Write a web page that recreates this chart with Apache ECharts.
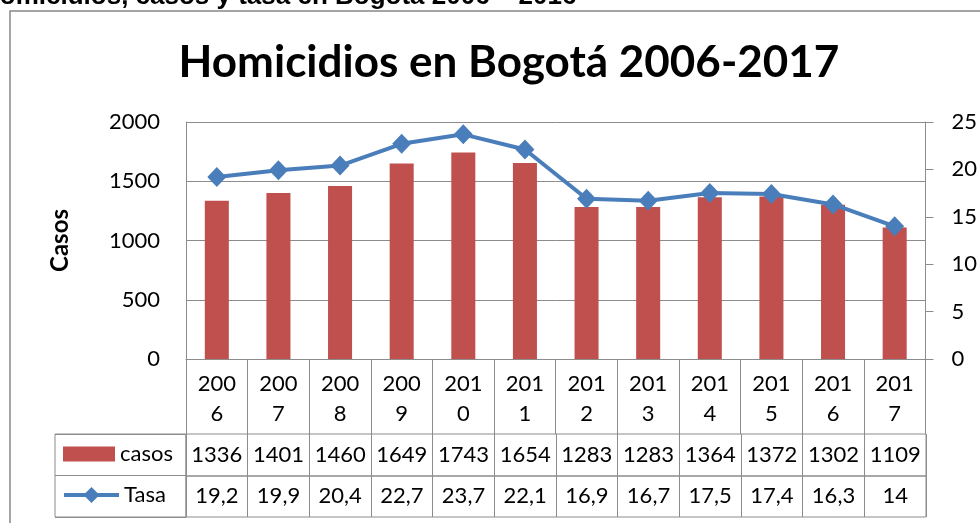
<!DOCTYPE html>
<html>
<head>
<meta charset="utf-8">
<script src="https://cdn.jsdelivr.net/npm/echarts@6/dist/echarts.min.js"></script>
<style>
html,body{margin:0;padding:0;background:#fff;}
#chart{width:980px;height:523px;}
</style>
</head>
<body>
<div id="chart"></div>
<script>
// ---- data ----
const years = ['2006','2007','2008','2009','2010','2011','2012','2013','2014','2015','2016','2017'];
const casos = [1336, 1401, 1460, 1649, 1743, 1654, 1283, 1283, 1364, 1372, 1302, 1109];
const tasa  = [19.2, 19.9, 20.4, 22.7, 23.7, 22.1, 16.9, 16.7, 17.5, 17.4, 16.3, 14];
const casosTicks = [0, 500, 1000, 1500, 2000];
const tasaTicks = [0, 5, 10, 15, 20, 25];

const FONT = 'Lato';
const GRID = '#8c8c8c';
const fmtTasa = v => String(v).replace('.', ',');

const chart = echarts.init(document.getElementById('chart'), null, {renderer: 'canvas'});

const cellAxis = (gridIndex, data) => ({
  type: 'category', gridIndex, data,
  axisLine: {show: false}, axisTick: {show: false},
  splitLine: {show: true, interval: 0, lineStyle: {color: GRID, width: 1}},
  axisLabel: {inside: true, interval: 0, margin: 21, verticalAlign: 'middle',
              fontFamily: FONT, fontSize: 22, color: '#000'}
});

chart.setOption({
  animation: false,
  backgroundColor: '#fff',
  title: [
    {text: 'Homicidios en Bogotá 2006-2017', left: 504, top: 36, textAlign: 'center',
     textStyle: {fontFamily: FONT, fontWeight: 'bold', fontSize: 44, color: '#000'}},
    {text: 'Homicidios, casos y tasa en Bogotá 2006 – 2016', left: -19, top: -16, padding: 0,
     textStyle: {fontFamily: 'Liberation Sans', fontWeight: 'bold', fontSize: 26, color: '#000'}}
  ],
  graphic: [
    {type: 'rect', shape: {x: 10, y: 11, width: 1000, height: 600}, silent: true, z: -1,
     style: {fill: 'none', stroke: '#888', lineWidth: 1.5}}
  ],
  legend: [
    {data: [{name: 'casos', icon: 'rect'}], left: 63, top: 443, padding: 0,
     itemWidth: 52, itemHeight: 15, itemGap: 0,
     textStyle: {fontFamily: FONT, fontSize: 22, color: '#000'}},
    {data: ['Tasa'], left: 62, top: 484, padding: 0,
     itemWidth: 55, itemHeight: 20, itemGap: 0,
     lineStyle: {width: 4, color: '#4A7EBB'},
     textStyle: {fontFamily: FONT, fontSize: 22, color: '#000'}}
  ],
  grid: [
    {left: 186, top: 122, width: 740, height: 237},
    {left: 186, top: 434, width: 740, height: 42, show: true, borderColor: GRID, borderWidth: 1},
    {left: 186, top: 476, width: 740, height: 41, show: true, borderColor: GRID, borderWidth: 1},
    {left: 55, top: 434, width: 131, height: 83, show: true, borderColor: GRID, borderWidth: 1}
  ],
  xAxis: [
    {type: 'category', gridIndex: 0, data: years,
     axisLine: {lineStyle: {color: GRID, width: 1}},
     axisTick: {show: true, interval: 0, length: 75, lineStyle: {color: GRID, width: 1}},
     axisLabel: {interval: 0, margin: 10, lineHeight: 30, fontFamily: FONT, fontSize: 22, color: '#000',
                 formatter: v => v.slice(0, 3) + '\n' + v.slice(3)}},
    cellAxis(1, casos.map(String)),
    cellAxis(2, tasa.map(fmtTasa)),
    {type: 'value', gridIndex: 3, show: false, min: 0, max: 1}
  ],
  yAxis: [
    {type: 'value', gridIndex: 0, min: casosTicks[0], max: casosTicks[casosTicks.length - 1], interval: 500,
     name: 'Casos', nameLocation: 'middle', nameGap: 114, nameRotate: 90,
     nameTextStyle: {fontFamily: FONT, fontWeight: 'bold', fontSize: 24, color: '#000'},
     axisLine: {show: true, lineStyle: {color: GRID, width: 1}},
     axisTick: {show: false},
     splitLine: {show: true, lineStyle: {color: GRID, width: 1}},
     axisLabel: {margin: 26, fontFamily: FONT, fontSize: 22, color: '#000', formatter: v => String(v)}},
    {type: 'value', gridIndex: 0, position: 'right', min: tasaTicks[0], max: tasaTicks[tasaTicks.length - 1], interval: 5,
     axisLine: {show: true, lineStyle: {color: GRID, width: 1}},
     axisTick: {show: true, length: 8, lineStyle: {color: GRID, width: 1}},
     splitLine: {show: false},
     axisLabel: {margin: 26, fontFamily: FONT, fontSize: 22, color: '#000', formatter: v => String(v)}},
    {type: 'value', gridIndex: 1, show: false, min: 0, max: 1},
    {type: 'value', gridIndex: 2, show: false, min: 0, max: 1},
    {type: 'category', gridIndex: 3, data: ['casos', 'Tasa'], inverse: true,
     axisLine: {show: false}, axisTick: {show: false}, axisLabel: {show: false},
     splitLine: {show: true, interval: 0, lineStyle: {color: GRID, width: 1}}}
  ],
  series: [
    {name: 'casos', type: 'bar', xAxisIndex: 0, yAxisIndex: 0, data: casos, barWidth: '39%',
     itemStyle: {color: '#C0504D'}},
    {name: 'Tasa', type: 'line', xAxisIndex: 0, yAxisIndex: 1, data: tasa,
     symbol: 'diamond', symbolSize: [19, 20],
     lineStyle: {color: '#4A7EBB', width: 4}, itemStyle: {color: '#4A7EBB'}, z: 3}
  ]
});
</script>
</body>
</html>
